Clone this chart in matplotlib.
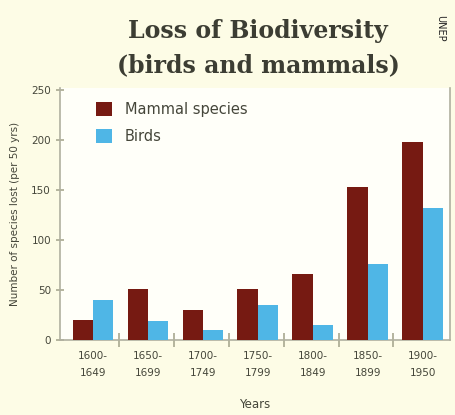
import matplotlib
matplotlib.use("Agg")
import matplotlib.pyplot as plt
import numpy as np

# Extinctions per half-century period
periods = ["1600-\n1649", "1650-\n1699", "1700-\n1749", "1750-\n1799",
           "1800-\n1849", "1850-\n1899", "1900-\n1950"]
mammals = [20, 51, 30, 51, 66, 153, 198]
birds = [40, 19, 10, 35, 15, 76, 132]
y_ticks = [0, 50, 100, 150, 200, 250]

bg = "#fdfce6"
txt = "#45463a"
red = "#761a12"
blue = "#4fb6e6"

fig = plt.figure(figsize=(4.55, 4.15), dpi=100, facecolor=bg)
ax = fig.add_axes([0.132, 0.181, 0.857, 0.607], facecolor="#fffff9")

x = np.arange(len(periods))
w = 0.37
ax.bar(x - w / 2, mammals, width=w, color=red, label="Mammal species", zorder=3)
ax.bar(x + w / 2, birds, width=w, color=blue, label="Birds", zorder=3)

ax.set_xlim(-0.6, 6.5)
ax.set_ylim(0, 252)
ax.set_yticks(y_ticks)
ax.set_yticklabels([str(v) for v in y_ticks], fontsize=7.5, color=txt)
ax.set_xticks(x)
ax.set_xticklabels(periods, fontsize=7.5, color=txt, linespacing=1.9)
ax.set_xticks(x[:-1] + 0.47, minor=True)
ax.tick_params(axis="x", which="major", length=0, pad=8)
ax.tick_params(axis="x", which="minor", length=10, direction="inout",
               color="#a8a890", width=1.2)
ax.tick_params(axis="y", length=6, direction="inout", color="#a8a890", width=1.2)

ax.spines["top"].set_visible(False)
for side in ["left", "right", "bottom"]:
    ax.spines[side].set_color("#b0b0a0")
    ax.spines[side].set_linewidth(1.2)

ax.set_ylabel("Number of species lost (per 50 yrs)", fontsize=7.5, color=txt, labelpad=8)
ax.set_xlabel("Years", fontsize=8.5, color=txt, labelpad=14)

leg = ax.legend(loc="upper left", bbox_to_anchor=(0.065, 0.985), frameon=False,
                fontsize=10.5, handlelength=1.1, handleheight=1.1,
                labelcolor=txt, borderaxespad=0.3, labelspacing=0.85,
                handletextpad=0.9)

fig.text(0.567, 0.925, "Loss of Biodiversity", ha="center", va="center",
         fontsize=17, color="#3c3d33", family="DejaVu Serif", weight="bold")
fig.text(0.567, 0.842, "(birds and mammals)", ha="center", va="center",
         fontsize=17, color="#3c3d33", family="DejaVu Serif", weight="bold")
fig.text(0.968, 0.965, "UNEP", rotation=270, ha="center", va="top",
         fontsize=7, color="#222222")

fig.savefig("out.png", dpi=100, facecolor=bg)
